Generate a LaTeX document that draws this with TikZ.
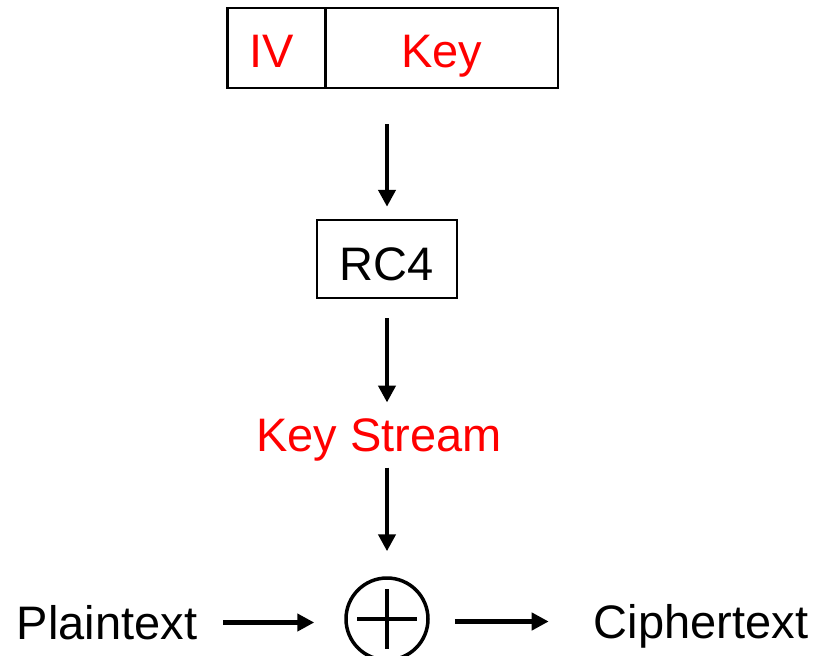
\documentclass[tikz,border=0pt]{standalone}
\usepackage{fontspec}
\setmainfont{Liberation Sans}
\usetikzlibrary{arrows.meta}
\definecolor{kred}{RGB}{255,0,0}
\begin{document}
\begin{tikzpicture}[x=1pt,y=-1pt,
  txt/.style={font=\fontsize{47}{56}\selectfont, inner sep=0pt, text height=33.6pt, text depth=0pt},
  boxed/.style={txt, draw, line width=2.5pt},
  arr/.style={line width=4.5pt, -{Triangle[length=17pt,width=17pt]}},
  xorsym/.style={draw, circle, line width=3.5pt, minimum size=82pt, inner sep=0pt}]
\useasboundingbox (0,0) rectangle (814,656);
% top box
\node[boxed, text=kred, minimum width=98pt, minimum height=80pt, text height=38pt] (iv) at (276.5,48) {\hspace*{-9pt}IV};
\node[boxed, text=kred, minimum width=233pt, minimum height=80pt, text height=38pt] (key) at (441.5,48) {Key};
% RC4
\node[boxed, minimum width=140pt, minimum height=78pt, text height=42pt] (rc4) at (387,259) {RC4};
% key stream
\node[txt, text=kred] (ks) at (379,434.5) {Key Stream};
% XOR
\node[xorsym] (xor) at (387,619) {};
\draw[line width=4pt] ([xshift=-30pt]xor.center) -- ([xshift=30pt]xor.center);
\draw[line width=4pt] ([yshift=30pt]xor.center) -- ([yshift=-30pt]xor.center);
% plain / cipher
\node[txt] (plain) at (107,622.5) {Plaintext};
\node[txt] (cipher) at (701,621.5) {Ciphertext};
% arrows
\draw[arr, shorten <=35pt, shorten >=12pt] (key.south -| rc4.north) -- (rc4.north);
\draw[arr, shorten <=19pt, shorten >=15pt] (rc4.south) -- (rc4.south |- ks.north);
\draw[arr, shorten <=16pt, shorten >=25pt] (xor.north |- ks.south) -- (xor.north);
\draw[arr, shorten <=26pt, shorten >=30pt] (plain.east) -- (plain.east -| xor.west);
\draw[arr, shorten <=25pt, shorten >=45pt] (xor.east |- cipher.west) -- (cipher.west);
\end{tikzpicture}
\end{document}
